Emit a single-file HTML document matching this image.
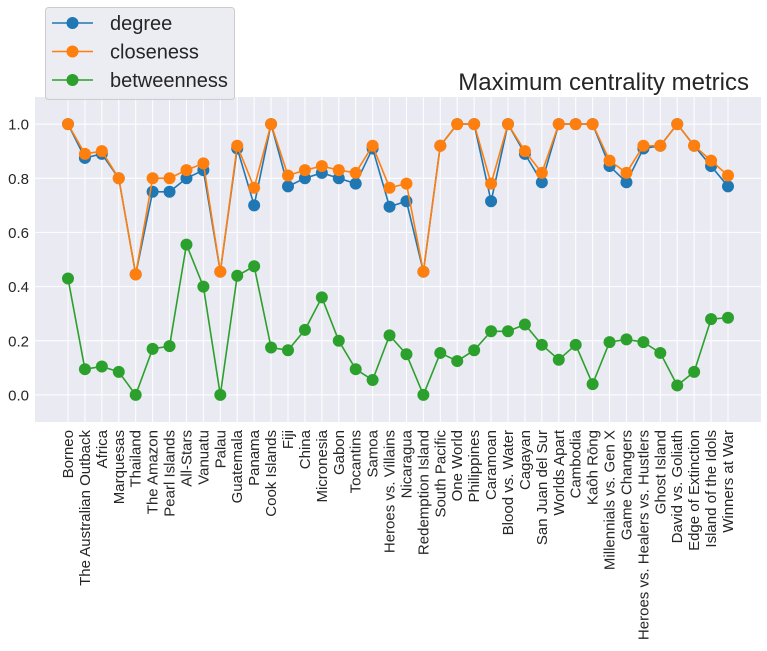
<!DOCTYPE html>
<html><head><meta charset="utf-8"><style>
body{margin:0;background:#fff;width:767px;height:646px;overflow:hidden}
svg text{font-family:"Liberation Sans","DejaVu Sans",sans-serif;fill:#262626}
</style></head><body>
<svg id="chart" width="767" height="646" xmlns="http://www.w3.org/2000/svg"></svg>
<script>
const categories=["Borneo","The Australian Outback","Africa","Marquesas","Thailand","The Amazon","Pearl Islands","All-Stars","Vanuatu","Palau","Guatemala","Panama","Cook Islands","Fiji","China","Micronesia","Gabon","Tocantins","Samoa","Heroes vs. Villains","Nicaragua","Redemption Island","South Pacific","One World","Philippines","Caramoan","Blood vs. Water","Cagayan","San Juan del Sur","Worlds Apart","Cambodia","Kaôh Rōng","Millennials vs. Gen X","Game Changers","Heroes vs. Healers vs. Hustlers","Ghost Island","David vs. Goliath","Edge of Extinction","Island of the Idols","Winners at War"];
const degree=[1,.875,.89,.8,.445,.75,.75,.8,.83,.455,.91,.70,1,.77,.80,.82,.80,.78,.91,.695,.715,.455,.92,1,1,.715,1,.89,.785,1,1,1,.845,.785,.91,.92,1,.92,.845,.77];
const closeness=[1,.89,.9,.8,.445,.8,.8,.83,.855,.455,.92,.765,1,.81,.83,.845,.83,.82,.92,.765,.78,.455,.92,1,1,.78,1,.9,.82,1,1,1,.865,.82,.92,.92,1,.92,.865,.81];
const betweenness=[.43,.095,.105,.085,0,.17,.18,.555,.40,0,.44,.475,.175,.165,.24,.36,.20,.095,.055,.22,.15,0,.155,.125,.165,.235,.235,.26,.185,.13,.185,.04,.195,.205,.195,.155,.035,.085,.28,.285];
const yTicks=[0,0.2,0.4,0.6,0.8,1.0];
const seriesNames=["degree","closeness","betweenness"];
const colors=["#1f77b4","#ff7f0e","#2ca02c"];

const NS="http://www.w3.org/2000/svg";
const svg=document.getElementById('chart');
const L=35,R=761,T=97,B=422;
const n=categories.length;
const xmin=-(n-1)*0.05,xmax=(n-1)*1.05;
const ymin=-0.1,ymax=1.1;
function xs(i){return L+(i-xmin)/(xmax-xmin)*(R-L);}
function ys(v){return B-(v-ymin)/(ymax-ymin)*(B-T);}
function mk(tag,attrs,parent){const e=document.createElementNS(NS,tag);for(const k in attrs)e.setAttribute(k,attrs[k]);(parent||svg).appendChild(e);return e;}

const bg=mk('rect',{x:L,y:T,width:R-L,height:B-T,fill:'#eaeaf2'});


categories.forEach((c,i)=>{
  const g=mk('line',{x1:xs(i),x2:xs(i),y1:T,y2:B,stroke:'#fff','stroke-width':1});
  
  
  const t=mk('text',{x:0,y:0,'font-size':15,'text-anchor':'end',transform:`translate(${xs(i)+5},430) rotate(-90)`});
  t.textContent=c;
  
  
});
yTicks.forEach(v=>{
  const g=mk('line',{x1:L,x2:R,y1:ys(v),y2:ys(v),stroke:'#fff','stroke-width':1});
  
  
  const t=mk('text',{x:L-6,y:ys(v)+5.5,'font-size':15,'text-anchor':'end'});
  t.textContent=v.toFixed(1);
  
  
});
[degree,closeness,betweenness].forEach((arr,s)=>{
  const g=mk('g',{});
  
  
  const p=mk('polyline',{points:arr.map((v,i)=>xs(i)+','+ys(v)).join(' '),fill:'none',stroke:colors[s],'stroke-width':1.6},g);
  
  
  arr.forEach((v,i)=>{
    const c=mk('circle',{cx:xs(i),cy:ys(v),r:6,fill:colors[s]},g);
    
    
  });
});
const title=mk('text',{x:749,y:90,'font-size':24,'text-anchor':'end'});
title.textContent='Maximum centrality metrics';


const lg=mk('g',{});


mk('rect',{x:45.5,y:7.5,width:189,height:92,rx:3,fill:'#eaeaf2','fill-opacity':0.9,stroke:'#cccccc'},lg);
seriesNames.forEach((nm,s)=>{
  const y=23+s*28.5;
  const e=mk('g',{},lg);
  
  
  mk('line',{x1:52,x2:93,y1:y,y2:y,stroke:colors[s],'stroke-width':1.6},e);
  mk('circle',{cx:72.5,cy:y,r:6,fill:colors[s]},e);
  const t=mk('text',{x:110,y:y+7,'font-size':20},e);
  t.textContent=nm;
});
</script>
</body></html>
